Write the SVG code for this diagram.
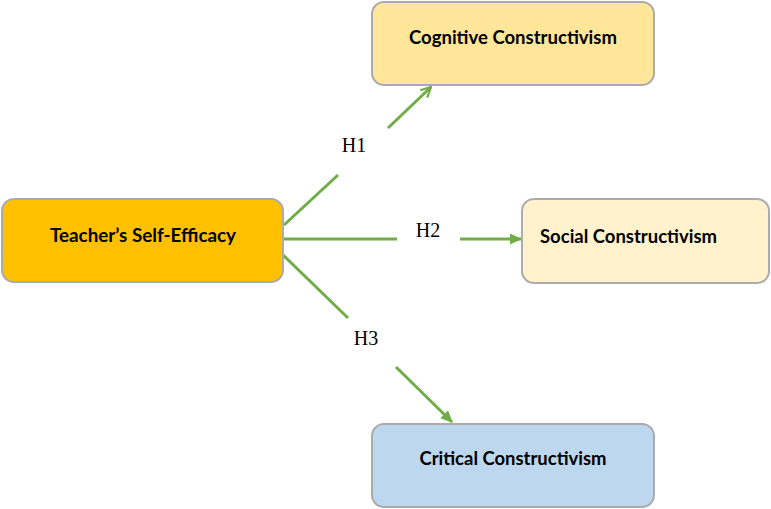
<svg xmlns="http://www.w3.org/2000/svg" width="771" height="509" viewBox="0 0 771 509">
<defs>
<marker id="open" viewBox="0 0 12 12" refX="11" refY="6" markerWidth="12" markerHeight="12" markerUnits="userSpaceOnUse" orient="auto">
<path d="M1,1 L11,6 L1,11" fill="none" stroke="#70AD47" stroke-width="2.2"/>
</marker>
<marker id="fill" viewBox="0 0 12 12" refX="11" refY="6" markerWidth="12" markerHeight="12" markerUnits="userSpaceOnUse" orient="auto">
<path d="M0,0.5 L12,6 L0,11.5 Z" fill="#70AD47"/>
</marker>
</defs>
<style>
.box{stroke:#ABABAB;stroke-width:2}
.lbl{font-family:"Lato","Open Sans","Liberation Sans",sans-serif;font-weight:bold;font-size:18px;fill:#000}
.h{font-family:"Liberation Serif","Times New Roman",serif;font-size:20px;fill:#000;text-anchor:middle}
.c{stroke:#70AD47;stroke-width:3;fill:none}
</style>
<rect width="771" height="509" fill="#fff"/>
<g id="connectors">
<line class="c" x1="284" y1="225" x2="338" y2="175"/>
<line class="c" x1="388" y1="128" x2="431" y2="87" marker-end="url(#open)"/>
<line class="c" x1="284" y1="239" x2="397" y2="239"/>
<line class="c" x1="460" y1="239" x2="521" y2="239" marker-end="url(#fill)"/>
<line class="c" x1="283" y1="255" x2="348" y2="318"/>
<line class="c" x1="396" y1="367" x2="452" y2="422" marker-end="url(#fill)"/>
<text class="h" x="354" y="152">H1</text>
<text class="h" x="428" y="237">H2</text>
<text class="h" x="366" y="345">H3</text>
</g>
<g id="teacher">
<rect class="box" x="2" y="199" width="281" height="83" rx="12" fill="#FFC000"/>
<text class="lbl" x="143" y="242" text-anchor="middle" textLength="186" lengthAdjust="spacingAndGlyphs">Teacher’s Self-Efficacy</text>
</g>
<g id="cognitive">
<rect class="box" x="372" y="2" width="282" height="83" rx="12" fill="#FFE699"/>
<text class="lbl" x="513" y="44" text-anchor="middle" textLength="208" lengthAdjust="spacingAndGlyphs">Cognitive Constructivism</text>
</g>
<g id="social">
<rect class="box" x="522" y="199" width="247" height="84" rx="12" fill="#FFF2CC"/>
<text class="lbl" x="540" y="243" textLength="177" lengthAdjust="spacingAndGlyphs">Social Constructivism</text>
</g>
<g id="critical">
<rect class="box" x="372" y="424" width="282" height="83" rx="12" fill="#BDD7EE"/>
<text class="lbl" x="513" y="465" text-anchor="middle" textLength="187" lengthAdjust="spacingAndGlyphs">Critical Constructivism</text>
</g>
</svg>
